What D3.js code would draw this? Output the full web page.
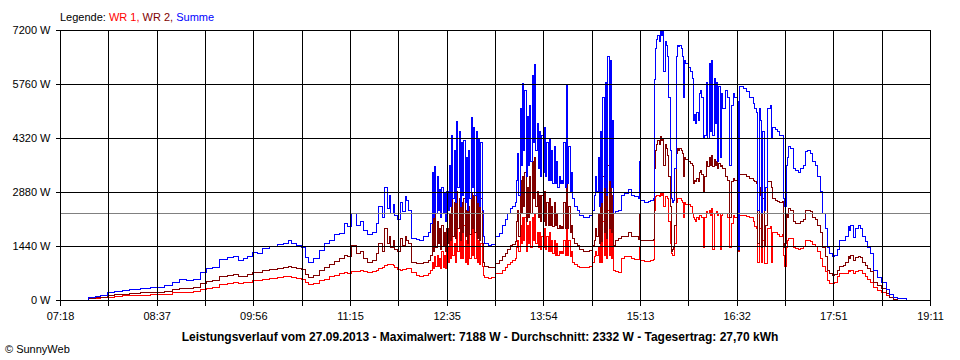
<!DOCTYPE html>
<html><head><meta charset="utf-8">
<script src="https://cdn.jsdelivr.net/npm/d3@7"></script>
<style>body{margin:0;background:#fff} svg text{font-family:"Liberation Sans",Arial,sans-serif}</style>
</head><body><svg id="c" width="960" height="360"></svg>
<script>
const times=[
"07:36","07:41","07:47","07:51","07:57","08:03","08:09","08:15","08:24","08:32",
"08:37","08:44","08:50","08:56","09:02","09:07","09:13","09:18","09:23","09:29",
"09:35","09:40","09:44","09:48","09:52","09:56","10:00","10:04","10:10","10:16",
"10:21","10:25","10:28","10:32","10:36","10:39","10:42","10:46","10:51",
"10:55","10:59","11:03","11:07","11:11","11:14","11:17","11:21","11:24","11:27",
"11:30","11:34","11:37","11:39","11:42","11:44","11:46","11:48","11:49","11:51",
"11:52","11:55","11:57","11:59","12:01","12:02","12:04","12:06","12:10","12:13",
"12:16","12:20",
"12:22","12:23","12:24","12:25","12:26","12:27","12:28","12:29","12:30","12:31",
"12:32","12:33","12:34","12:35","12:36","12:37","12:38","12:39","12:40","12:41",
"12:42","12:43","12:44","12:45","12:46","12:47","12:48","12:49","12:50","12:51",
"12:52","12:53","12:54","12:55","12:56","12:57","12:58","12:59","13:00","13:01",
"13:02","13:03","13:04","13:05","13:06",
"13:09","13:12","13:15","13:18","13:21","13:23","13:25","13:27","13:29","13:31",
"13:32","13:33","13:34","13:35","13:36","13:37","13:38","13:39","13:40","13:41",
"13:42","13:43","13:44","13:45","13:46","13:47","13:48","13:49","13:50","13:51",
"13:52","13:53","13:54","13:55","13:56","13:57","13:58","13:59","14:00","14:01",
"14:02","14:03","14:04","14:05","14:06","14:07","14:08","14:09","14:10","14:11",
"14:12","14:13","14:14","14:15","14:16","14:17","14:18","14:20","14:22","14:24",
"14:27","14:30","14:32","14:34","14:36","14:37","14:38","14:39","14:40","14:41",
"14:42","14:43","14:44","14:45","14:46","14:47","14:48","14:49","14:50","14:51",
"14:52","14:53","14:56","14:58","15:01","15:04","15:06","15:09","15:12","15:13",
"15:14","15:17","15:20","15:22","15:24","15:25","15:26","15:27","15:28","15:29",
"15:30","15:31","15:32","15:33","15:34","15:35","15:36","15:37","15:38","15:39",
"15:40","15:41","15:42","15:43","15:44","15:45","15:46","15:47","15:48","15:49",
"15:50","15:51","15:53","15:55","15:56","15:57","15:58","15:59","16:00","16:01",
"16:02","16:03","16:04","16:05","16:06",
"16:08","16:09","16:10","16:11","16:12","16:13","16:14","16:15","16:16","16:17",
"16:18","16:19","16:20","16:21","16:23","16:25","16:27","16:28","16:30","16:31",
"16:33","16:34","16:35","16:38","16:41","16:43","16:46","16:47","16:49","16:50",
"16:51","16:52","16:53","16:54","16:55","16:56","16:58","17:00","17:01","17:02",
"17:04","17:06","17:08","17:10","17:11","17:12","17:13","17:14","17:15","17:17",
"17:19","17:21","17:23","17:25","17:27","17:29","17:31","17:33","17:35","17:37",
"17:39","17:41","17:43","17:45","17:47","17:49","17:51","17:53","17:55","17:57",
"18:00","18:02","18:04","18:05","18:06","18:08","18:10","18:12","18:14","18:16",
"18:18","18:20","18:22","18:25","18:28","18:31","18:35","18:38","18:41","18:44",
"18:48","18:52"];

const summe=[
0,60,100,130,190,230,260,290,310,330,
330,380,480,540,520,560,740,830,880,1070,
1130,1170,1060,1100,1160,1280,1250,1380,1420,1480,
1520,1600,1520,1460,1400,1130,1000,1100,1330,
1500,1600,1750,1780,2050,1950,2300,2000,2100,1850,
1750,1800,2050,2500,2200,3000,2450,2800,2300,2550,
2250,2150,2600,2350,2750,2650,2400,1650,1620,1600,
1700,1800,
2050,3400,2200,3550,2300,3300,2400,2950,2200,3000,
2300,2850,2100,2900,2400,3600,2500,4400,2700,4000,
2600,4750,3000,4500,2500,4200,2800,4250,2600,3800,
2400,4000,2700,4880,3000,4600,2800,4500,2600,4300,
2500,4200,2400,1700,1500,
1450,1480,1700,1780,2000,2150,2300,2450,2500,2600,
3200,3900,2800,5100,3600,5780,4000,5600,3300,4900,
3600,5200,3700,6000,4200,6270,4000,4700,3500,4500,
3300,4400,3400,4600,3300,4200,3200,4300,3200,4000,
3100,4100,3100,3700,3000,3300,3100,3200,3100,4200,
3000,5730,3100,4100,2900,3400,2700,2500,2400,2250,
2200,2200,2250,2400,2800,3300,2900,3800,2500,4500,
2600,5400,3000,5800,2800,6500,3200,6400,3000,4800,
2300,2350,2400,2800,2850,2950,2800,2750,2700,3700,
2650,2600,2620,2650,2700,5870,6700,6950,7050,6900,
7188,7050,7150,6100,6900,6800,6500,5400,4000,2700,
2600,2650,3500,6500,6800,6750,6800,6700,6500,5400,
6400,6300,6200,6100,5900,4800,4950,4700,5000,4800,
5500,5600,5400,4300,4400,
5800,4300,6300,4500,6400,4400,5900,4700,5800,3700,
5700,3800,5500,5100,5600,5400,3600,5200,5500,5400,
5300,1350,5700,5650,5550,5400,5250,5100,5000,2400,
5100,4800,2300,4500,2400,3000,5100,5200,4300,4600,
4550,4500,4400,4400,2700,2500,3600,3800,4100,4050,
3500,3450,3400,3500,3600,3950,4000,3900,3700,3600,
3300,2900,2300,1900,1400,1250,1150,1200,1350,1600,
1600,1700,1950,1850,2000,1680,1900,1980,1900,1700,
1550,1400,1250,800,600,480,280,150,60,30,
30,0];

const wr2=[
0,30,60,80,110,140,160,180,190,200,
210,230,290,320,310,330,440,500,520,620,
660,680,620,640,680,740,730,800,820,850,
880,900,860,840,820,680,610,660,780,
880,960,1020,1100,1200,1150,1450,1250,1300,1100,
1000,1050,1250,1500,1300,1900,1500,1700,1400,1600,
1350,1300,1650,1450,1700,1600,1500,1000,980,970,
1000,1050,
1200,2200,1300,2300,1400,2100,1500,1900,1350,2000,
1450,1800,1300,1900,1500,2300,1600,2800,1700,2600,
1650,2900,1900,2700,1600,2600,1800,2700,1700,2400,
1500,2500,1750,2880,1900,2800,1800,2850,1650,2800,
1600,2700,1500,1000,900,
860,870,980,1050,1150,1250,1350,1450,1480,1550,
2100,2400,1700,3200,2300,3300,2500,3400,2100,3000,
2200,3300,2300,3700,2700,3800,2500,2900,2200,2800,
2100,2800,2100,2900,2000,2600,2000,2700,2000,2500,
1950,2600,2000,2300,1900,2000,1900,1950,1900,2600,
1900,3200,1900,2500,1800,2000,1650,1500,1450,1350,
1300,1300,1330,1450,1600,1900,1700,2300,1500,2700,
1550,3300,1800,3400,1650,3600,1900,3500,1800,2800,
1450,1600,1650,1700,1700,1800,1700,1700,1620,2300,
1600,1580,1600,1600,1620,3500,4000,4150,4250,4150,
4350,4250,4300,3600,4150,4050,3850,3300,2500,1300,
1350,1400,2000,3900,4050,4000,4050,4000,3900,3300,
3800,3750,3700,3650,3600,3100,3200,3150,3250,3150,
3400,3450,3350,2900,3300,
3700,3550,3800,3600,3850,3550,3750,3600,3700,3500,
3650,3550,3600,3500,3300,3200,2200,3150,3250,3200,
3150,1330,3350,3350,3300,3250,3200,3150,3100,1500,
3000,2800,1400,2700,1450,2000,3150,3150,3000,2700,
2650,2620,2600,2620,1400,1500,2300,2200,2450,2400,
2100,2050,2050,2100,2150,2400,2400,2350,2200,2150,
2000,1800,1400,1150,800,700,650,680,800,900,
920,1000,1150,1100,1180,1050,1130,1170,1140,1000,
920,840,750,480,380,300,170,80,20,0,
0,0];

const wr1=[
0,30,40,60,80,100,110,120,130,140,
140,150,190,210,200,220,280,320,340,420,
450,470,440,460,480,520,510,560,580,600,
620,620,600,580,560,460,420,450,530,
560,620,660,700,730,720,760,750,780,760,
740,760,800,850,880,930,940,960,950,930,
880,820,800,810,820,830,830,740,650,620,
660,700,
800,1000,850,1150,900,1200,900,1100,850,1300,
880,1200,850,1400,1000,1800,1100,2000,1200,1500,
1000,2000,1300,1800,1100,1900,1100,2000,1000,1600,
950,1800,1100,2000,1200,1900,1100,1900,1000,1600,
950,1500,900,650,600,
580,600,700,720,800,880,950,1000,1050,1100,
1400,1600,1300,2000,1500,2200,1600,2200,1300,2000,
1500,2100,1400,2200,1600,2300,1500,1800,1400,1800,
1350,1700,1400,1900,1350,1700,1300,1800,1300,1600,
1250,1600,1200,1500,1200,1300,1250,1300,1250,1600,
1200,2300,1200,1600,1150,1300,1000,950,900,880,
880,880,900,1000,1150,1300,1200,1400,1000,1700,
1000,2100,1200,2300,1100,2400,1200,2300,1100,1800,
800,750,740,1100,1150,1150,1100,1080,1080,1400,
1050,1030,1030,1050,1080,2400,2750,2800,2800,2750,
2850,2800,2850,2500,2750,2750,2700,2100,1500,1250,
1200,1200,1500,2600,2700,2700,2700,2650,2600,2200,
2600,2550,2550,2500,2300,2200,2150,2100,2200,2150,
2250,2250,2200,1400,2200,
2350,2300,2400,2250,2450,1350,2300,2300,2350,2250,
2300,1350,2250,2300,2300,2200,1400,2050,2250,2200,
2150,1300,2250,2250,2230,2200,2100,1950,1900,1000,
1900,1900,1000,1600,980,980,1900,1950,1000,1800,
1800,1750,1700,1750,1200,900,1400,1600,1650,1650,
1400,1380,1360,1380,1420,1580,1600,1570,1480,1420,
1300,1100,900,750,520,450,430,470,620,720,
700,720,780,760,800,700,770,790,780,720,
620,560,480,330,250,200,120,60,20,0,
0,0];

const yTicks=[0,1440,2880,4320,5760,7200];
const xTickLabels=["07:18","08:37","09:56","11:15","12:35","13:54","15:13","16:32","17:51","19:11"];
const average=2332;
const seriesNames=["WR 1","WR 2","Summe"];
const seriesColors=["#ff0000","#800000","#0000ff"];
const title="Leistungsverlauf vom 27.09.2013 - Maximalwert: 7188 W - Durchschnitt: 2332 W - Tagesertrag: 27,70 kWh";

const toMin=s=>{const [h,m]=s.split(":").map(Number);return h*60+m;};
const svg=d3.select("#c");
const L=60,R=930,T=30,B=300;
const t0=toMin(xTickLabels[0]),t1=toMin(xTickLabels[xTickLabels.length-1]);
const x=d3.scaleLinear().domain([t0,t1]).range([L,R]);
const y=d3.scaleLinear().domain([0,7200]).range([B,T]);
const grid=d3.range(19).map(i=>t0+i*(t1-t0)/18);

// data lines
const n=Math.min(times.length,wr1.length,wr2.length,summe.length);
const tm=times.slice(0,n).map(toMin);
[wr1,wr2,summe].forEach((arr,k)=>{
  const line=d3.line().x((d,i)=>x(tm[i])).y(d=>y(d)).curve(d3.curveStepAfter);
  svg.append("path").attr("d",line(arr.slice(0,n))).attr("fill","none")
    .attr("stroke",seriesColors[k]).attr("stroke-width",1).attr("shape-rendering","crispEdges");
});

// average line
svg.append("line").attr("x1",L).attr("x2",R).attr("y1",Math.round(y(average))+0.5).attr("y2",Math.round(y(average))+0.5)
  .attr("stroke","#808080").attr("stroke-width",1).attr("shape-rendering","crispEdges");

// grid
const g=svg.append("g").attr("shape-rendering","crispEdges");
g.selectAll(".v").data(grid).join("line").attr("x1",d=>Math.round(x(d))+0.5).attr("x2",d=>Math.round(x(d))+0.5)
  .attr("y1",T).attr("y2",B).attr("stroke","#000");
g.selectAll(".h").data(yTicks).join("line").attr("x1",L).attr("x2",R+1)
  .attr("y1",d=>Math.round(y(d))+0.5).attr("y2",d=>Math.round(y(d))+0.5).attr("stroke","#000");

// axes
const ya=svg.append("g").attr("transform",`translate(${L+0.5},0)`)
  .call(d3.axisLeft(y).tickValues(yTicks).tickSize(5).tickPadding(5).tickFormat(d=>d+" W"));
const xa=svg.append("g").attr("transform",`translate(0,${B+0.5})`)
  .call(d3.axisBottom(x).tickValues(grid).tickSize(5).tickPadding(7).tickFormat((d,i)=>i%2===0?xTickLabels[i/2]:""));
[ya,xa].forEach(a=>{a.select(".domain").remove();a.selectAll("line").attr("stroke","#000").attr("shape-rendering","crispEdges");
  a.selectAll("text").attr("font-size",11).attr("fill","#000").attr("font-family","Liberation Sans, Arial, sans-serif");});

// legend
const lg=svg.append("text").attr("x",L).attr("y",21).attr("font-size",11);
lg.append("tspan").text("Legende: ").attr("fill","#000");
seriesNames.forEach((s,i)=>lg.append("tspan").attr("fill",seriesColors[i]).text(s+(i<2?", ":"")));

// title
svg.append("text").attr("x",480).attr("y",341).attr("text-anchor","middle").attr("font-size",12)
  .attr("font-weight","bold").attr("fill","#000").text(title);
svg.append("text").attr("x",5).attr("y",353).attr("font-size",11).attr("fill","#000").text("\u00a9 SunnyWeb");
</script></body></html>
